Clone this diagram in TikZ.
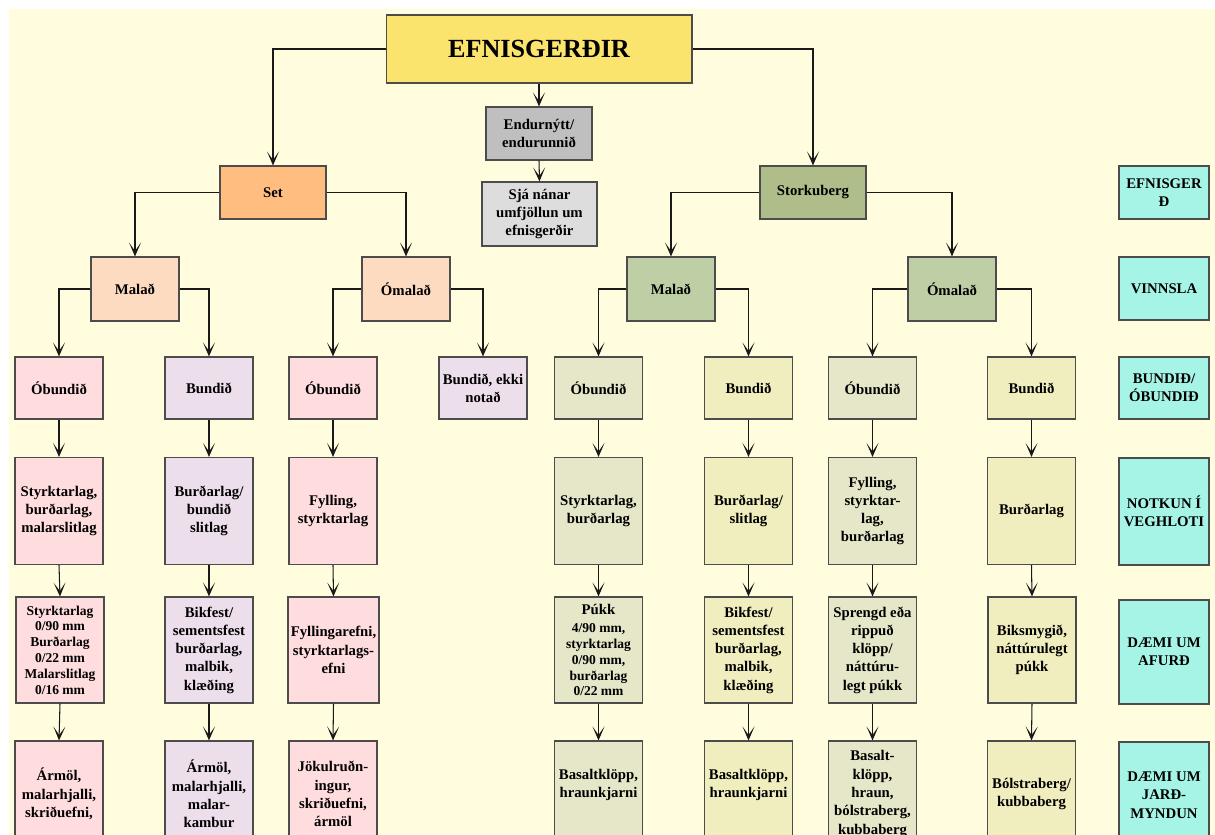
\documentclass[tikz,border=0pt]{standalone}
\usepackage{fontspec}
\setmainfont{Liberation Serif}
\usetikzlibrary{arrows.meta}
\definecolor{cream}{RGB}{255,253,222}
\definecolor{topyellow}{RGB}{250,228,110}
\definecolor{setorange}{RGB}{255,190,127}
\definecolor{setpeach}{RGB}{253,219,192}
\definecolor{setpink}{RGB}{255,221,222}
\definecolor{setlilac}{RGB}{237,222,235}
\definecolor{stkgreen}{RGB}{174,189,137}
\definecolor{stksage}{RGB}{190,206,165}
\definecolor{stkgrey}{RGB}{230,230,200}
\definecolor{stkstraw}{RGB}{240,237,190}
\definecolor{recgrey}{RGB}{191,191,191}
\definecolor{reclight}{RGB}{221,221,221}
\definecolor{legcyan}{RGB}{166,244,230}
\newcommand\bigtxt{\fontsize{8.4}{10.4}\selectfont}
\tikzset{box style/.style = {%
  draw = black!70,
  line width = 0.6pt,
  align = center,
  inner sep = 1pt,
  minimum width = 1.76cm,
  font = \fontsize{8.4}{10.4}\selectfont\bfseries
 },
 small text/.style = {font = \fontsize{7.7}{9}\selectfont\bfseries},
 row two/.style = {box style, minimum height = 1.28cm},
 row three/.style = {box style, minimum height = 1.24cm},
 row four/.style = {box style, minimum height = 2.14cm},
 row five/.style = {box style, minimum height = 2.12cm},
 row six/.style = {box style, minimum height = 2.12cm},
 legend style/.style = {box style, fill = legcyan, minimum width = 1.8cm},
 arrow style/.style = {%
  draw = black!90,
  line width = 0.6pt,
  -{Stealth[length = 0.28cm, width = 0.24cm, inset = 0.17cm]}
 }
}

\begin{document}
\begin{tikzpicture}[x=0.02cm, y=-0.02cm]
      \useasboundingbox (0,0) rectangle (1215,835);
      \clip (0,0) rectangle (1215,835);
      \fill[cream] (9,9) rectangle (1215,835);

      \node[box style, fill=topyellow, minimum width=6.12cm, minimum height=1.36cm,
        font=\fontsize{14.9}{17}\selectfont\bfseries] (top) at (539,49) {EFNISGERÐIR};
      \node[box style, fill=recgrey, minimum width=2.12cm, minimum height=1.06cm] (endur) at (539,133.5) {Endurnýtt/\\endurunnið};
      \node[box style, fill=reclight, minimum width=2.3cm, minimum height=1.28cm] (sja) at (539.5,214) {Sjá nánar\\umfjöllun um\\efnisgerðir};
      \node[box style, fill=setorange, minimum width=2.12cm, minimum height=1.06cm] (set) at (273,192.5) {Set};
      \node[box style, fill=stkgreen, minimum width=2.12cm, minimum height=1.06cm] (stork) at (813,192.5) {Storkuberg};

      \node[row two, fill=setpeach] (smal) at (135,289) {Malað};
      \node[row two, fill=setpeach] (soml) at (406,289) {Ómalað};
      \node[row two, fill=stksage] (kmal) at (671,289) {Malað};
      \node[row two, fill=stksage] (koml) at (952,289) {Ómalað};

      \node[row three, fill=setpink] (smo) at (59,388) {Óbundið};
      \node[row three, fill=setlilac] (smb) at (209,388) {Bundið};
      \node[row three, fill=setpink] (soo) at (333,388) {Óbundið};
      \node[row three, fill=setlilac] (sob) at (483,388) {Bundið, ekki\\notað};
      \node[row three, fill=stkgrey] (kmo) at (598.5,388) {Óbundið};
      \node[row three, fill=stkstraw] (kmb) at (748.5,388) {Bundið};
      \node[row three, fill=stkgrey] (koo) at (872.5,388) {Óbundið};
      \node[row three, fill=stkstraw] (kob) at (1031.5,388) {Bundið};

      \node[row four, fill=setpink] (smo1) at (59,511) {Styrktarlag,\\burðarlag,\\malarslitlag};
      \node[row four, fill=setlilac] (smb1) at (209,511) {Burðarlag/\\bundið\\slitlag};
      \node[row four, fill=setpink] (soo1) at (333,511) {Fylling,\\styrktarlag};
      \node[row four, fill=stkgrey] (kmo1) at (598.5,511) {Styrktarlag,\\burðarlag};
      \node[row four, fill=stkstraw] (kmb1) at (748.5,511) {Burðarlag/\\slitlag};
      \node[row four, fill=stkgrey] (koo1) at (872.5,511) {Fylling,\\styrktar-\\lag,\\burðarlag};
      \node[row four, fill=stkstraw] (kob1) at (1031.5,511) {Burðarlag};

      \node[row five, fill=setpink, small text] (smo2) at (60,650) {Styrktarlag\\0/90 mm\\Burðarlag\\0/22 mm\\Malarslitlag\\0/16 mm};
      \node[row five, fill=setlilac] (smb2) at (209,650) {Bikfest/\\sementsfest\\burðarlag,\\malbik,\\klæðing};
      \node[row five, fill=setpink, minimum width=1.82cm] (soo2) at (333.5,650) {Fyllingarefni,\\styrktarlags-\\efni};
      \node[row five, fill=stkgrey, small text] (kmo2) at (598.5,650) {\bigtxt Púkk\\[1.5pt]4/90 mm,\\styrktarlag\\0/90 mm,\\burðarlag\\0/22 mm};
      \node[row five, fill=stkstraw] (kmb2) at (748.5,650) {Bikfest/\\sementsfest\\burðarlag,\\malbik,\\klæðing};
      \node[row five, fill=stkgrey] (koo2) at (872.5,650) {Sprengd eða\\rippuð\\klöpp/\\náttúru-\\legt púkk};
      \node[row five, fill=stkstraw] (kob2) at (1032,650) {Biksmygið,\\náttúrulegt\\púkk};

      \node[row six, fill=setpink] (smo3) at (59,794) {Ármöl,\\malarhjalli,\\skriðuefni,};
      \node[row six, fill=setlilac] (smb3) at (209,794) {Ármöl,\\malarhjalli,\\malar-\\kambur};
      \node[row six, fill=setpink] (soo3) at (333,794) {Jökulruðn-\\ingur,\\skriðuefni,\\ármöl};
      \node[row six, fill=stkgrey, text depth=12pt] (kmo3) at (598.5,794) {Basaltklöpp,\\hraunkjarni};
      \node[row six, fill=stkstraw, text depth=12pt] (kmb3) at (748.5,794) {Basaltklöpp,\\hraunkjarni};
      \node[row six, fill=stkgrey] (koo3) at (872.5,794) {Basalt-\\klöpp,\\hraun,\\bólstraberg,\\kubbaberg};
      \node[row six, fill=stkstraw] (kob3) at (1031.5,794) {Bólstraberg/\\kubbaberg};

      \node[legend style, minimum height=1.06cm] (leg1) at (1164,192.5) {EFNISGER\\Ð};
      \node[legend style, minimum height=1.26cm] (leg2) at (1164,288.5) {VINNSLA};
      \node[legend style, minimum height=1.24cm] (leg3) at (1164,388) {BUNDIÐ/\\ÓBUNDIÐ};
      \node[legend style, minimum height=2.14cm] (leg4) at (1164,511.5) {NOTKUN Í\\VEGHLOTI};
      \node[legend style, minimum height=2.08cm] (leg5) at (1164,652) {DÆMI UM\\AFURÐ};
      \node[legend style, minimum height=2.12cm] (leg6) at (1164,795) {DÆMI UM\\JARÐ-\\MYNDUN};

      \draw[arrow style] (top.west) -| (set.north);
      \draw[arrow style] (top.east) -| (stork.north);
      \draw[arrow style] (top.south) -- (endur.north);
      \draw[arrow style] (endur.south) -- (sja.north);
      \draw[arrow style] (set.west) -| (smal.north);
      \draw[arrow style] (set.east) -| (soml.north);
      \draw[arrow style] (stork.west) -| (kmal.north);
      \draw[arrow style] (stork.east) -| (koml.north);
      \draw[arrow style] (smal.west) -| (smo.north);
      \draw[arrow style] (smal.east) -| (smb.north);
      \draw[arrow style] (soml.west) -| (soo.north);
      \draw[arrow style] (soml.east) -| (sob.north);
      \draw[arrow style] (kmal.west) -| (kmo.north);
      \draw[arrow style] (kmal.east) -| (kmb.north);
      \draw[arrow style] (koml.west) -| (koo.north);
      \draw[arrow style] (koml.east) -| (kob.north);
      \foreach \c in {smo,smb,soo,kmo,kmb,koo,kob}{
        \draw[arrow style] (\c.south) -- (\c1.north);
        \draw[arrow style] (\c1.south) -- (\c2.north);
        \draw[arrow style] (\c2.south) -- (\c3.north);
      }
\end{tikzpicture}
\end{document}
